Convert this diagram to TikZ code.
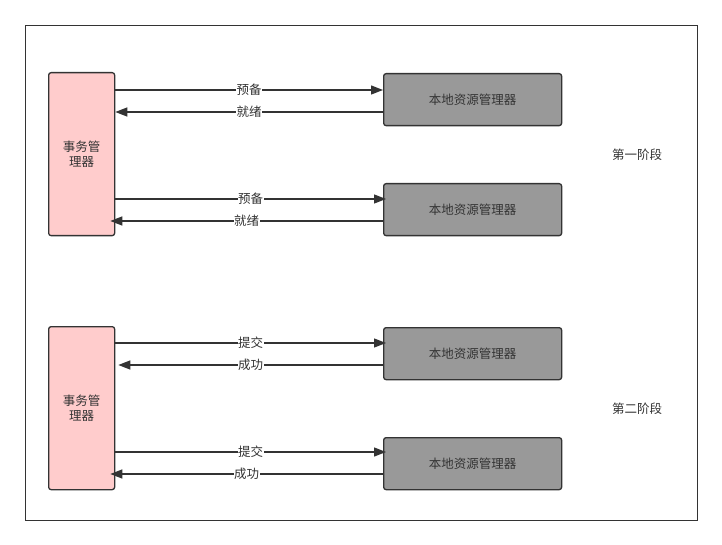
\documentclass[tikz,border=0pt]{standalone}
\usepackage{fontspec}
\newfontfamily\cjk{Noto Sans CJK SC}
\usetikzlibrary{arrows.meta}
\definecolor{ink}{HTML}{333333}
\definecolor{pinkfill}{HTML}{FFCCCC}
\definecolor{grayfill}{HTML}{999999}
\begin{document}
\begin{tikzpicture}[x=1pt,y=-1pt,
  every node/.style={font=\cjk\fontsize{12.5pt}{15pt}\selectfont, text=ink},
  tmbox/.style={draw=ink, line width=1.3pt, fill=pinkfill, rounded corners=2.5pt, inner sep=0pt, align=center},
  rmbox/.style={draw=ink, line width=1.3pt, fill=grayfill, rounded corners=2.5pt, inner sep=0pt, align=center},
  conn/.style={draw=ink, line width=1.3pt, -{Triangle[length=12pt,width=9pt]}},
  lbl/.style={fill=white, inner sep=0.5pt}
]
\useasboundingbox (0,0) rectangle (722,545);
\fill[white] (0,0) rectangle (722,545);
\node[draw=ink, line width=1.2pt, minimum width=672pt, minimum height=495pt, inner sep=0pt, anchor=north west] (frame) at (25,25) {};

% phase 1
\node[tmbox, minimum width=66pt, minimum height=163pt, anchor=north west] (tm1) at (48,72) {事务管\\理器};
\node[rmbox, minimum width=178pt, minimum height=52pt, anchor=north west] (rm1) at (383,73) {本地资源管理器};
\node[rmbox, minimum width=178pt, minimum height=52pt, anchor=north west] (rm2) at (383,183) {本地资源管理器};

\coordinate (a1s) at (tm1.east |- 0,90);
\coordinate (a1e) at (rm1.west |- 0,90);
\draw[conn] (a1s) -- node[lbl, pos=0.5] (l1) {预备} (a1e);
\coordinate (b1s) at (rm1.west |- 0,112);
\coordinate (b1e) at (tm1.east |- 0,112);
\draw[conn] (b1s) -- node[lbl, pos=0.5] (l2) {就绪} (b1e);
\coordinate (a2s) at (tm1.east |- 0,199);
\coordinate (a2e) at ([xshift=3pt]rm2.west |- 0,199);
\draw[conn] (a2s) -- node[lbl, pos=0.5] (l3) {预备} (a2e);
\coordinate (b2s) at (rm2.west |- 0,221);
\coordinate (b2e) at ([xshift=-5pt]tm1.east |- 0,221);
\draw[conn] (b2s) -- node[lbl, pos=0.5] (l4) {就绪} (b2e);

\node (p1) at (637,155) {第一阶段};

% phase 2
\node[tmbox, minimum width=66pt, minimum height=163pt, anchor=north west] (tm2) at (48,326) {事务管\\理器};
\node[rmbox, minimum width=178pt, minimum height=52pt, anchor=north west] (rm3) at (383,327) {本地资源管理器};
\node[rmbox, minimum width=178pt, minimum height=52pt, anchor=north west] (rm4) at (383,437) {本地资源管理器};

\coordinate (c1s) at (tm2.east |- 0,343);
\coordinate (c1e) at ([xshift=3pt]rm3.west |- 0,343);
\draw[conn] (c1s) -- node[lbl, pos=0.5] (l5) {提交} (c1e);
\coordinate (d1s) at (rm3.west |- 0,365);
\coordinate (d1e) at ([xshift=3pt]tm2.east |- 0,365);
\draw[conn] (d1s) -- node[lbl, pos=0.5] (l6) {成功} (d1e);
\coordinate (c2s) at (tm2.east |- 0,452);
\coordinate (c2e) at ([xshift=3pt]rm4.west |- 0,452);
\draw[conn] (c2s) -- node[lbl, pos=0.5] (l7) {提交} (c2e);
\coordinate (d2s) at (rm4.west |- 0,474);
\coordinate (d2e) at ([xshift=-5pt]tm2.east |- 0,474);
\draw[conn] (d2s) -- node[lbl, pos=0.5] (l8) {成功} (d2e);

\node (p2) at (637,409) {第二阶段};
\end{tikzpicture}
\end{document}
